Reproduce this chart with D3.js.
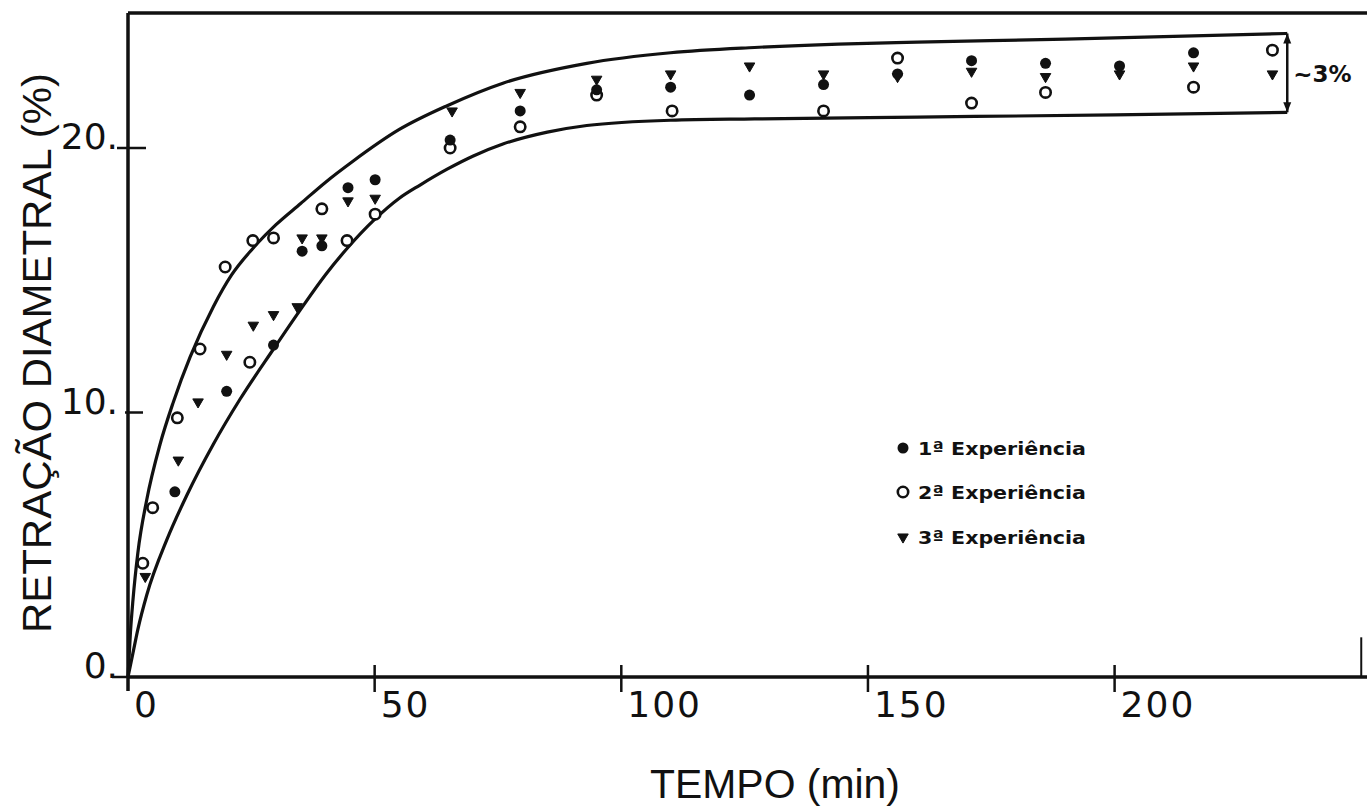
<!DOCTYPE html>
<html>
<head>
<meta charset="utf-8">
<script src="https://cdn.jsdelivr.net/npm/d3@7"></script>
<style>
  html, body { margin: 0; padding: 0; background: #fff; }
  svg { display: block; }
</style>
</head>
<body>
<svg id="chart" width="1367" height="806"></svg>
<script>
// ---- Data ----
const xTicks = [0, 50, 100, 150, 200];
const yTicks = [0, 10, 20];
const xTickLabels = ["0", "50", "100", "150", "200"];
const yTickLabels = ["0.", "10.", "20."];

// 1ª Experiência (filled circles): [tempo (min), retração (%)]
const exp1 = [
  [9.5, 7.0], [20, 10.8], [29.5, 12.55], [35.3, 16.1], [39.3, 16.3], [44.6, 18.5],
  [50.1, 18.8], [65.3, 20.3], [79.5, 21.4], [95, 22.2], [110, 22.3], [126, 22.0],
  [141, 22.4], [156, 22.8], [171, 23.3], [186, 23.2], [201, 23.1], [216, 23.6]
];
// 2ª Experiência (open circles)
const exp2 = [
  [3, 4.3], [5, 6.4], [10, 9.8], [14.6, 12.4], [19.7, 15.5], [24.7, 11.9], [25.3, 16.5],
  [29.5, 16.6], [39.3, 17.7], [44.4, 16.5], [50.1, 17.5], [65.3, 20.0], [79.5, 20.8],
  [95, 22.0], [110.3, 21.4], [141, 21.4], [156, 23.4], [171, 21.7], [186, 22.1],
  [216, 22.3], [232, 23.7]
];
// 3ª Experiência (triangles)
const exp3 = [
  [3.5, 3.8], [10.2, 8.2], [14.2, 10.4], [20, 12.2], [25.4, 13.3], [29.5, 13.7],
  [34.3, 14.0], [35.3, 16.6], [39.3, 16.6], [44.6, 18.0], [50.1, 18.1], [65.7, 21.4],
  [79.5, 22.1], [95, 22.6], [110, 22.8], [126, 23.1], [141, 22.8], [156, 22.7],
  [171, 22.9], [186, 22.7], [201, 22.8], [216, 23.1], [232, 22.8]
];
// Envelope curves
const upperCurve = [
  [0, 0], [0.5, 1.7], [1, 2.9], [2, 4.7], [3.8, 6.7], [6.5, 8.8], [9.2, 10.4],
  [12.6, 12.1], [17.3, 14.0], [21, 15.2], [25.3, 16.2], [30, 17.1], [35, 17.9],
  [40, 18.7], [45.6, 19.5], [55, 20.7], [64.7, 21.6], [76, 22.45], [93, 23.2],
  [110, 23.6], [127, 23.8], [144, 23.93], [160, 24.0], [190, 24.12], [235, 24.33]
];
const lowerCurve = [
  [0, 0], [1, 0.9], [2, 1.8], [3.8, 3.1], [7.9, 5.2], [12, 6.9], [17.3, 8.8],
  [22.7, 10.5], [29.5, 12.4], [35, 13.9], [40, 15.2], [44.4, 16.2], [50, 17.3],
  [55, 18.1], [59.2, 18.6], [64.7, 19.2], [70, 19.7], [76, 20.15], [85, 20.6],
  [93, 20.85], [110, 21.05], [127, 21.1], [160, 21.17], [200, 21.25], [235, 21.35]
];
const bandX = [235];
const bandLabel = ["~3%"];
const legendLabels = ["1ª Experiência", "2ª Experiência", "3ª Experiência"];
const xTitle = "TEMPO (min)";
const yTitle = "RETRAÇÃO DIAMETRAL (%)";

// ---- Scales ----
const x = d3.scaleLinear().domain([0, 250]).range([128, 128 + 250 * 4.933]);
const y = d3.scaleLinear().domain([0, 25]).range([677, 677 - 25 * 26.45]);

const svg = d3.select("#chart");
const ink = "#111";

// Frame: top border and small right stub
svg.append("line").attr("x1", x(0)).attr("x2", 1367).attr("y1", y(25.1)).attr("y2", y(25.1))
  .attr("stroke", ink).attr("stroke-width", 3.5);
svg.append("line").attr("x1", x(250)).attr("x2", x(250)).attr("y1", y(1.5)).attr("y2", y(0))
  .attr("stroke", ink).attr("stroke-width", 2);

// Axes lines
svg.append("line").attr("x1", x(0)).attr("x2", 1367).attr("y1", y(0)).attr("y2", y(0))
  .attr("stroke", ink).attr("stroke-width", 3.5);
svg.append("line").attr("x1", x(0)).attr("x2", x(0)).attr("y1", y(25.1)).attr("y2", y(0) + 14)
  .attr("stroke", ink).attr("stroke-width", 3.5);

// X ticks + labels
const fontTick = "'DejaVu Sans', sans-serif";
xTicks.forEach((t, i) => {
  if (t > 0) {
    svg.append("line").attr("x1", x(t)).attr("x2", x(t)).attr("y1", y(0) - 12).attr("y2", y(0) + 15)
      .attr("stroke", ink).attr("stroke-width", 2.5);
  }
  svg.append("text").attr("x", x(t) + 6).attr("y", 717)
    .attr("font-family", fontTick).attr("font-size", 36).attr("letter-spacing", 2)
    .attr("fill", ink).text(xTickLabels[i]);
});

// Y ticks + labels
yTicks.forEach((t, i) => {
  const left = t === 20 ? 117 : (t === 10 ? 125 : 112);
  const right = t === 20 ? 146 : (t === 10 ? 143 : x(0));
  svg.append("line").attr("x1", left).attr("x2", right).attr("y1", y(t)).attr("y2", y(t))
    .attr("stroke", ink).attr("stroke-width", 2.5);
  svg.append("text").attr("x", 118).attr("y", y(t) + 1).attr("text-anchor", "end")
    .attr("font-family", fontTick).attr("font-size", 36)
    .attr("fill", ink).text(yTickLabels[i]);
});

// Axis titles
svg.append("text").attr("x", 650).attr("y", 798)
  .attr("font-family", "'Liberation Sans', Arial, sans-serif").attr("font-size", 40)
  .attr("textLength", 250).attr("lengthAdjust", "spacingAndGlyphs")
  .attr("fill", ink).text(xTitle);
svg.append("text")
  .attr("transform", `translate(51, 633) rotate(-90)`)
  .attr("font-family", "'Liberation Sans', Arial, sans-serif").attr("font-size", 41)
  .attr("textLength", 560).attr("lengthAdjust", "spacingAndGlyphs")
  .attr("fill", ink).text(yTitle);

// Envelope curves
const line = d3.line().x(d => x(d[0])).y(d => y(d[1])).curve(d3.curveMonotoneX);
svg.append("path").datum(upperCurve).attr("d", line)
  .attr("fill", "none").attr("stroke", ink).attr("stroke-width", 3.2);
svg.append("path").datum(lowerCurve).attr("d", line)
  .attr("fill", "none").attr("stroke", ink).attr("stroke-width", 3.2);

// Band bracket with arrows
const bx = x(bandX[0]);
const yTop = y(upperCurve[upperCurve.length - 1][1]);
const yBot = y(lowerCurve[lowerCurve.length - 1][1]);
svg.append("line").attr("x1", bx).attr("x2", bx).attr("y1", yTop).attr("y2", yBot)
  .attr("stroke", ink).attr("stroke-width", 2.5);
svg.append("path").attr("d", `M${bx - 4},${yTop + 10} L${bx},${yTop} L${bx + 4},${yTop + 10} Z`).attr("fill", ink);
svg.append("path").attr("d", `M${bx - 4},${yBot - 10} L${bx},${yBot} L${bx + 4},${yBot - 10} Z`).attr("fill", ink);
svg.append("text").attr("x", bx + 6).attr("y", (yTop + yBot) / 2 + 9)
  .attr("font-family", "'DejaVu Sans', sans-serif").attr("font-weight", "bold").attr("font-size", 23)
  .attr("fill", ink).text(bandLabel[0]);

// Markers
const tri = d3.symbol().type(d3.symbolTriangle).size(48);
function drawFilled(g, cx, cy) {
  g.append("circle").attr("cx", cx).attr("cy", cy).attr("r", 5.5).attr("fill", ink);
}
function drawOpen(g, cx, cy) {
  g.append("circle").attr("cx", cx).attr("cy", cy).attr("r", 5.2)
    .attr("fill", "#fff").attr("stroke", ink).attr("stroke-width", 2.6);
}
function drawTri(g, cx, cy) {
  g.append("path").attr("d", tri).attr("transform", `translate(${cx},${cy}) rotate(180)`)
    .attr("fill", ink).attr("stroke", ink).attr("stroke-width", 1);
}
const pts = svg.append("g");
exp2.forEach(d => drawOpen(pts, x(d[0]), y(d[1])));
exp1.forEach(d => drawFilled(pts, x(d[0]), y(d[1])));
exp3.forEach(d => drawTri(pts, x(d[0]), y(d[1])));

// Legend
const lg = svg.append("g");
const legY = [448, 492, 537];
const drawers = [drawFilled, drawOpen, drawTri];
legendLabels.forEach((lab, i) => {
  drawers[i](lg, 903, legY[i]);
  lg.append("text").attr("x", 918).attr("y", legY[i] + 7)
    .attr("font-family", "'DejaVu Sans', sans-serif").attr("font-weight", "bold").attr("font-size", 18)
    .attr("textLength", 168).attr("lengthAdjust", "spacingAndGlyphs")
    .attr("fill", ink).text(lab);
});
</script>
</body>
</html>
